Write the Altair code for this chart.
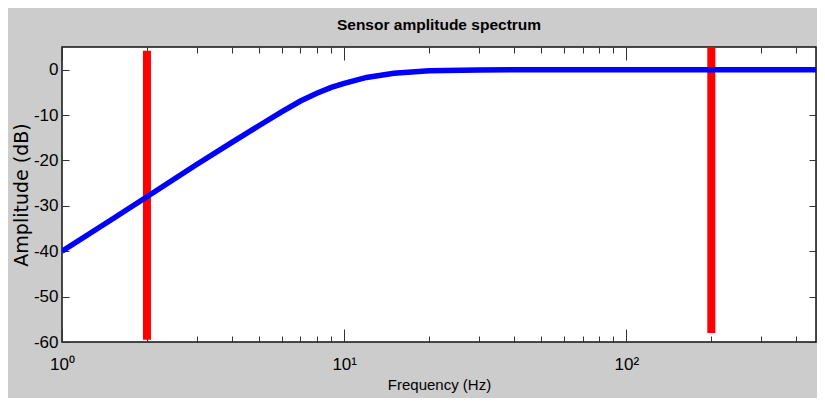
import altair as alt
import pandas as pd

# Blue curve: sensor amplitude response
freq = [1, 1.5, 2, 3, 4, 5, 6, 7, 8, 9, 10, 12, 15, 20, 30, 50, 100, 200, 500]
amp = [-40, -33, -28, -20.9, -16, -12.3, -9.3, -6.9, -5.2, -3.9, -3.0, -1.7, -0.8, -0.25, -0.05, 0, 0, 0, 0]

# Red vertical markers
marker_freq = [2, 200]
marker_low = [-59.5, -58]
marker_high = [4.2, 5]

# Axis ticks
major_x = [1, 10, 100]
minor_x = [2, 3, 4, 5, 6, 7, 8, 9, 20, 30, 40, 50, 60, 70, 80, 90, 200, 300, 400]
y_ticks = [-60, -50, -40, -30, -20, -10, 0]

curve = pd.DataFrame({"f": freq, "a": amp})
markers = pd.DataFrame({"f": marker_freq, "lo": marker_low, "hi": marker_high})

xscale = alt.Scale(type="log", domain=[1, 470], nice=False)
yscale = alt.Scale(domain=[-60, 5], nice=False, zero=False)

SANS = "Liberation Sans, Arial, sans-serif"
TICK = "#333333"

label_expr = "datum.value == 1 ? '10⁰' : datum.value == 10 ? '10¹' : '10²'"

line = alt.Chart(curve).mark_line(color="#0000ff", strokeWidth=5.5, clip=True).encode(
    x=alt.X("f:Q", scale=xscale, axis=alt.Axis(
        orient="bottom", values=major_x, labelExpr=label_expr,
        tickSize=13, offset=-13, tickColor=TICK, domain=False, grid=False,
        labelFont=SANS, labelFontSize=17, labelColor="black", labelPadding=14,
        labelFlush=False,
        title="Frequency (Hz)", titleFont=SANS, titleFontSize=15,
        titleFontWeight="normal", titleColor="black", titlePadding=5)),
    y=alt.Y("a:Q", scale=yscale, axis=alt.Axis(
        orient="left", values=y_ticks, labelExpr="toString(datum.value)",
        tickSize=7, offset=-7, tickColor=TICK,
        domain=False, grid=False, labelFont=SANS, labelFontSize=17,
        labelColor="black", labelPadding=4, labelFlush=False,
        title="Amplitude (dB)", titleFont="DejaVu Sans", titleFontSize=19,
        titleFontWeight="normal", titleColor="black", titlePadding=2)),
)

rules = alt.Chart(markers).mark_rule(color="#ff0000", strokeWidth=8, strokeCap="butt", clip=True).encode(
    x=alt.X("f:Q", scale=xscale, axis=alt.Axis(
        orient="bottom", values=minor_x, tickSize=6, offset=-6, tickColor=TICK,
        domain=False, grid=False, labels=False, title=None)),
    y=alt.Y("lo:Q", scale=yscale, axis=alt.Axis(
        orient="right", values=y_ticks, tickSize=7, offset=-7, tickColor=TICK,
        domain=False, grid=False, labels=False, title=None)),
    y2="hi:Q",
)

top_major = alt.Chart(curve).mark_line(opacity=0).encode(
    x=alt.X("f:Q", scale=xscale, axis=alt.Axis(
        orient="top", values=major_x, tickSize=13, offset=-13, tickColor=TICK,
        domain=False, grid=False, labels=False, title=None)),
    y=alt.Y("a:Q", scale=yscale, axis=None),
)

top_minor = alt.Chart(curve).mark_line(opacity=0).encode(
    x=alt.X("f:Q", scale=xscale, axis=alt.Axis(
        orient="top", values=minor_x, tickSize=6, offset=-6, tickColor=TICK,
        domain=False, grid=False, labels=False, title=None)),
    y=alt.Y("a:Q", scale=yscale, axis=None),
)

chart = alt.layer(top_major, top_minor, rules, line).resolve_axis(
    x="independent", y="independent"
).properties(
    width=754,
    height=295,
    autosize=alt.AutoSizeParams(type="none"),
    padding={"left": 54, "top": 39, "right": 1, "bottom": 56},
    background="#cccccc",
    title=alt.TitleParams(
        "Sensor amplitude spectrum", font=SANS, fontSize=15.5,
        fontWeight="bold", color="black", offset=13, anchor="middle"),
).configure_view(
    fill="white", stroke="#111111", strokeWidth=1.5
)

chart.save("out.html", embed_options={"renderer": "svg", "actions": False})
